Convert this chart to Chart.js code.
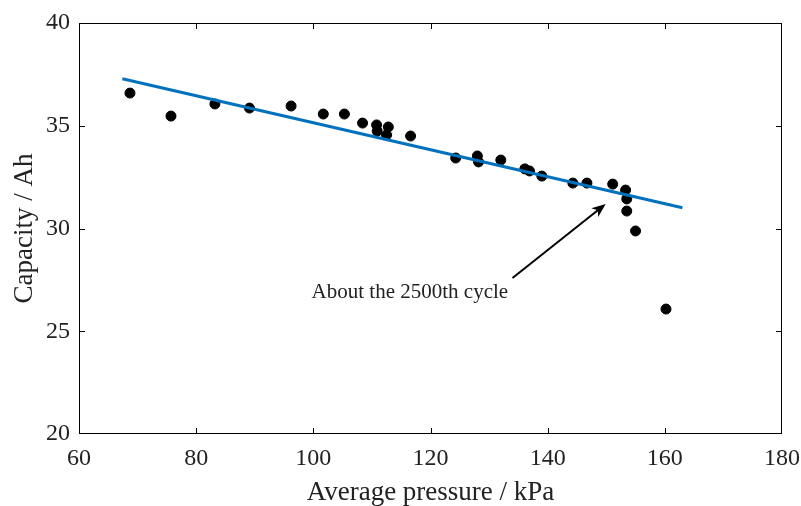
<!doctype html>
<html>
<head>
    <meta charset="utf-8">
    <title>Capacity vs average pressure</title>
    <script src="https://cdn.jsdelivr.net/npm/chart.js@4.4.1/dist/chart.umd.min.js"></script>
    <style>
        html, body { margin: 0; padding: 0; background: #fff; }
        .chart-holder { width: 801px; height: 506px; }
    </style>
</head>
<body>
<div class="chart-holder">
    <canvas id="myChart"></canvas>
</div>

<script>
    // measured points (kPa, Ah)
    var pressure = [68.7, 75.7, 83.2, 89.1, 96.2, 101.7, 105.3, 108.4, 110.8, 110.9, 112.8, 112.5, 116.6,
        124.3, 128.0, 128.2, 132.0, 136.1, 136.9, 139.0, 144.3, 146.7, 151.1, 153.3, 153.5, 153.5, 155.0, 160.2];
    var capacity = [36.59, 35.47, 36.06, 35.86, 35.96, 35.57, 35.57, 35.13, 35.04, 34.74, 34.94, 34.55, 34.50,
        33.43, 33.53, 33.24, 33.33, 32.90, 32.80, 32.55, 32.21, 32.21, 32.16, 31.87, 31.44, 30.85, 29.88, 26.08];

    // fitted line end points
    var fitX = [67.4, 163.0];
    var fitY = [37.29, 31.01];

    var xTicks = [60, 80, 100, 120, 140, 160, 180];
    var yTicks = [20, 25, 30, 35, 40];

    var noteText = 'About the 2500th cycle';
    var notePos = [99.7, 26.9];
    var arrowFrom = [134.0, 27.59];
    var arrowTo = [149.9, 31.19];

    var serif = '"Liberation Serif", "DejaVu Serif", serif';

    var points = pressure.map(function (p, i) { return {x: p, y: capacity[i]}; });
    var fitLine = fitX.map(function (p, i) { return {x: p, y: fitY[i]}; });

    // box, inward ticks, arrow and note
    var boxPlugin = {
        id: 'boxPlugin',
        afterDraw: function (chart) {
            var ctx = chart.ctx;
            var a = chart.chartArea;
            var xs = chart.scales.x, ys = chart.scales.y;
            ctx.save();
            ctx.strokeStyle = '#000';
            ctx.lineWidth = 1;
            ctx.strokeRect(a.left + 0.5, a.top + 0.5, a.right - a.left - 1, a.bottom - a.top - 1);
            ctx.beginPath();
            xTicks.slice(1, -1).forEach(function (v) {
                var px = Math.round(xs.getPixelForValue(v)) + 0.5;
                ctx.moveTo(px, a.bottom); ctx.lineTo(px, a.bottom - 6);
                ctx.moveTo(px, a.top); ctx.lineTo(px, a.top + 6);
            });
            yTicks.slice(1, -1).forEach(function (v) {
                var py = Math.round(ys.getPixelForValue(v)) + 0.5;
                ctx.moveTo(a.left, py); ctx.lineTo(a.left + 6, py);
                ctx.moveTo(a.right, py); ctx.lineTo(a.right - 6, py);
            });
            ctx.stroke();

            var x0 = xs.getPixelForValue(arrowFrom[0]), y0 = ys.getPixelForValue(arrowFrom[1]);
            var x1 = xs.getPixelForValue(arrowTo[0]), y1 = ys.getPixelForValue(arrowTo[1]);
            var ang = Math.atan2(y1 - y0, x1 - x0);
            ctx.lineWidth = 2;
            ctx.beginPath();
            ctx.moveTo(x0, y0);
            ctx.lineTo(x1 - 8 * Math.cos(ang), y1 - 8 * Math.sin(ang));
            ctx.stroke();
            ctx.fillStyle = '#000';
            ctx.beginPath();
            ctx.moveTo(x1, y1);
            ctx.lineTo(x1 - 15 * Math.cos(ang - 0.38), y1 - 15 * Math.sin(ang - 0.38));
            ctx.lineTo(x1 - 10 * Math.cos(ang), y1 - 10 * Math.sin(ang));
            ctx.lineTo(x1 - 15 * Math.cos(ang + 0.38), y1 - 15 * Math.sin(ang + 0.38));
            ctx.closePath();
            ctx.fill();

            ctx.font = '21px ' + serif;
            ctx.textAlign = 'left';
            ctx.textBaseline = 'middle';
            ctx.fillStyle = '#222';
            ctx.fillText(noteText, xs.getPixelForValue(notePos[0]), ys.getPixelForValue(notePos[1]));
            ctx.restore();
        }
    };

    var ctx = document.getElementById("myChart").getContext("2d");
    var myChart = new Chart(ctx, {
        type: 'scatter',
        data: {
            datasets: [{
                type: 'line',
                data: fitLine,
                borderColor: '#0072BD',
                borderWidth: 3,
                pointRadius: 0,
                fill: false
            }, {
                data: points,
                backgroundColor: '#000',
                borderColor: '#000',
                pointRadius: 5,
                pointHoverRadius: 5
            }]
        },
        options: {
            responsive: true,
            maintainAspectRatio: false,
            animation: false,
            layout: {padding: {top: 23, right: 19, left: 0, bottom: 0}},
            plugins: {legend: {display: false}, tooltip: {enabled: false}},
            scales: {
                x: {
                    type: 'linear',
                    min: 60, max: 180,
                    afterBuildTicks: function (s) { s.ticks = xTicks.map(function (v) { return {value: v}; }); },
                    afterFit: function (s) { s.height = 72; s.paddingLeft = 0; s.paddingRight = 0; },
                    grid: {display: false, drawTicks: false},
                    border: {display: false},
                    ticks: {color: '#222', font: {family: serif, size: 24}, padding: 10, maxRotation: 0},
                    title: {display: true, text: 'Average pressure / kPa', color: '#222',
                        font: {family: serif, size: 27, lineHeight: 1}, padding: 0}
                },
                y: {
                    min: 20, max: 40,
                    afterBuildTicks: function (s) { s.ticks = yTicks.map(function (v) { return {value: v}; }); },
                    afterFit: function (s) { s.width = 79; s.paddingTop = 0; s.paddingBottom = 0; },
                    grid: {display: false, drawTicks: false},
                    border: {display: false},
                    ticks: {color: '#222', font: {family: serif, size: 24}, padding: 9},
                    title: {display: true, text: 'Capacity / Ah', color: '#222',
                        font: {family: serif, size: 27, lineHeight: 1}, padding: {top: 11, bottom: 0}}
                }
            }
        },
        plugins: [boxPlugin]
    });
</script>
</body>
</html>
